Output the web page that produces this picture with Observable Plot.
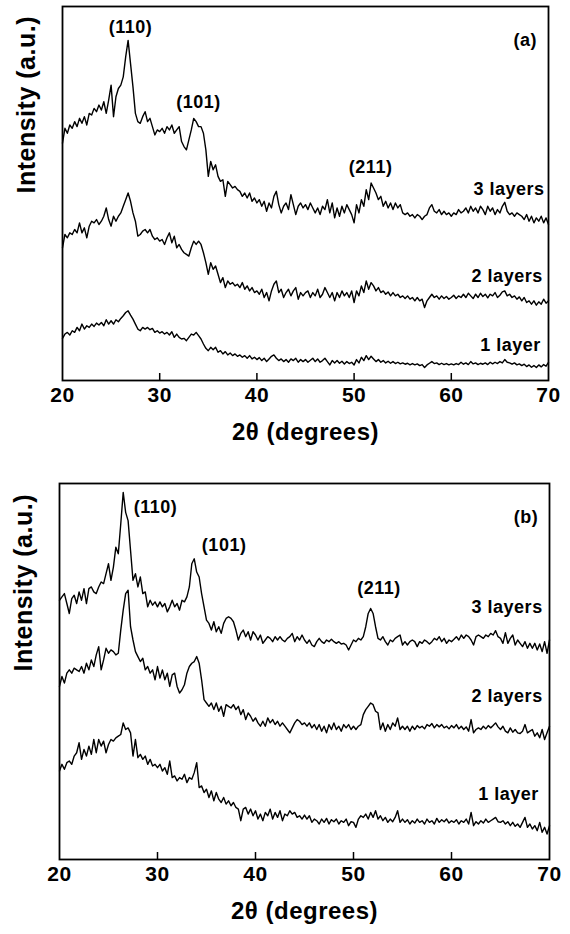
<!DOCTYPE html>
<html><head><meta charset="utf-8">
<script src="https://cdn.jsdelivr.net/npm/d3@7"></script>
<script src="https://cdn.jsdelivr.net/npm/@observablehq/plot@0.6"></script>
<style>
body{margin:0;background:#fff;}
#wrap{position:relative;width:570px;height:934px;overflow:hidden;background:#fff;}
#wrap > svg{position:absolute;left:0;}
</style></head><body><div id="wrap"></div>
<script>
// 2θ sampling grid: 20° to 70° every 0.25°
const thetaStart = 20, thetaStep = 0.25;
const xTicks = [20, 30, 40, 50, 60, 70];
const innerTicks = [30, 40, 50, 60];

// Panel (a) — intensity (a.u.)
const a3 = [715,760,745,770,760,780,765,790,775,795,770,805,800,820,810,830,815,840,805,845,
890,795,855,880,890,915,975,1025,955,885,805,780,775,795,810,780,790,765,740,755,
750,760,745,765,755,770,745,755,765,720,705,695,725,755,790,780,765,765,745,695,
615,660,635,650,615,600,605,555,600,590,580,585,575,570,555,565,550,565,540,550,
535,545,525,540,510,535,520,555,570,530,505,525,535,515,560,530,500,525,535,520,
530,515,535,520,505,520,500,525,515,545,505,535,490,520,495,525,505,530,515,500,
475,530,505,545,525,575,545,595,580,565,545,555,525,540,520,535,515,535,520,530,
505,500,505,495,500,490,500,495,485,495,500,520,530,510,505,515,500,510,500,505,
495,505,500,515,505,510,520,505,525,510,520,505,525,515,500,525,510,520,500,515,
505,525,537,510,500,505,495,505,500,495,485,500,480,495,475,490,480,495,475,490,
470];
const a2 = [400,440,430,445,440,455,445,475,445,460,430,465,480,475,485,470,480,495,520,485,
465,495,480,495,505,525,545,565,540,505,480,435,440,450,455,445,455,435,425,430,
420,425,410,430,445,415,435,400,410,395,385,380,375,400,420,410,420,410,385,355,
320,355,335,345,320,295,310,280,300,290,295,285,290,280,295,275,285,270,280,265,
270,260,275,250,265,240,270,290,300,265,275,250,265,275,255,270,280,245,265,255,
265,270,250,265,255,275,250,260,280,265,250,265,240,265,250,270,255,265,250,270,
235,270,255,285,265,300,275,295,285,270,280,265,270,260,267,255,265,255,260,250,
255,247,255,245,250,240,250,240,245,220,240,250,260,250,255,245,255,247,253,245,
250,257,247,255,250,260,250,263,255,247,260,250,263,253,260,249,260,255,265,250,
257,267,270,255,260,250,255,245,252,240,250,235,240,230,240,227,237,230,245,233,
240];
const a1 = [127,140,145,137,150,145,160,150,170,155,165,160,170,163,173,167,175,165,183,170,
180,170,183,177,187,195,205,210,197,185,170,155,150,160,155,160,153,157,145,150,
143,147,140,145,137,147,130,140,130,125,127,120,130,140,137,145,135,125,110,97,
90,100,93,100,85,90,80,87,77,83,75,80,73,77,70,75,67,75,65,70,
63,69,60,67,57,65,73,77,67,60,65,57,63,55,65,60,67,55,63,57,
63,55,61,67,57,65,55,60,67,57,47,60,53,60,52,58,50,57,51,55,
47,63,53,70,60,75,63,73,65,57,63,55,60,53,58,52,57,51,55,50,
53,49,52,47,51,47,50,45,48,39,47,52,57,51,53,48,52,48,51,47,
50,47,51,48,55,49,53,48,57,50,53,48,52,49,53,48,55,50,55,51,
57,53,63,55,53,49,53,47,50,45,49,42,47,40,45,39,47,41,48,43,
55];

// Panel (b) — intensity (a.u.)
const b3 = [782,792,802,772,742,787,797,772,807,782,817,772,817,822,807,802,822,837,832,862,
892,842,882,942,922,1012,1107,1047,1022,932,842,862,822,852,802,807,762,782,767,777,
762,777,762,772,747,762,782,762,772,752,782,777,792,822,892,907,867,852,802,762,
722,712,692,717,687,702,682,712,727,732,727,717,692,662,682,692,672,687,662,687,
677,662,677,652,662,672,667,657,672,662,672,662,657,667,672,682,657,672,662,677,
662,652,662,647,642,657,667,657,652,662,657,664,657,652,657,650,652,647,632,647,
662,657,667,662,672,702,742,757,742,702,667,662,672,657,647,662,657,667,672,677,
647,657,647,657,662,657,642,657,652,662,657,650,657,667,662,672,657,667,652,662,
657,664,672,662,677,667,677,672,662,647,672,677,672,667,677,672,682,677,690,672,
667,652,684,652,667,677,647,662,652,642,657,637,652,637,652,632,650,627,657,622,
662];
const b2 = [522,552,532,562,572,562,577,572,567,582,562,592,572,602,582,617,642,572,602,637,
622,632,627,617,622,692,752,802,812,702,662,627,612,597,607,572,582,562,572,542,
582,547,572,542,562,522,557,562,522,502,512,527,562,582,592,597,612,592,542,482,
472,462,472,452,472,447,462,432,467,462,457,467,452,462,437,452,422,442,432,417,
427,412,402,417,402,427,412,422,407,417,402,412,402,392,382,397,412,422,417,407,
412,402,412,397,407,392,407,387,402,382,407,392,412,392,402,387,407,397,407,392,
402,392,402,407,437,452,462,472,467,447,442,392,412,387,407,392,412,402,427,392,
402,392,402,387,402,392,404,397,402,394,407,402,410,397,407,400,407,397,402,394,
404,397,407,394,402,392,400,387,422,382,392,397,392,402,394,404,397,404,412,400,
392,402,387,382,397,384,392,382,380,387,407,382,387,392,372,382,367,392,362,382,
402];
const b1 = [267,287,272,292,297,287,312,322,352,302,332,312,342,317,362,322,362,342,357,322,
347,362,357,367,372,377,412,392,397,382,312,362,307,317,302,312,287,302,282,287,
277,287,267,277,257,297,247,252,237,247,242,257,232,247,242,262,292,217,222,202,
212,187,207,177,202,182,172,187,167,177,162,172,157,152,117,152,157,137,152,132,
147,122,137,117,142,132,152,122,142,127,147,117,137,132,147,137,142,127,132,122,
134,122,132,112,122,117,107,122,112,124,107,120,114,122,107,117,112,122,102,114,
112,97,122,132,127,137,122,142,127,147,122,132,117,127,112,122,114,127,147,112,
122,112,120,107,117,110,122,112,117,107,122,112,117,107,124,112,120,114,122,110,
117,112,120,107,117,112,122,107,142,102,114,107,117,110,122,112,117,122,127,114,
112,117,107,114,102,112,100,107,97,112,127,97,107,92,102,87,112,82,97,77,
102];

const layers = ["3 layers", "2 layers", "1 layer"];

// Annotations (2θ position, height in the panel's a.u.)
const peakLabelsA = [
  {text: "(110)", theta: 27.0, y: 1065},
  {text: "(101)", theta: 34.0, y: 840},
  {text: "(211)", theta: 51.7, y: 642},
  {text: "(a)", theta: 67.6, y: 1025}
];
const layerLabelsA = [
  {text: "3 layers", theta: 69.6, y: 575},
  {text: "2 layers", theta: 69.4, y: 315},
  {text: "1 layer", theta: 69.2, y: 105}
];
const peakLabelsB = [
  {text: "(110)", theta: 29.8, y: 1062},
  {text: "(101)", theta: 36.8, y: 947},
  {text: "(211)", theta: 52.6, y: 817},
  {text: "(b)", theta: 67.6, y: 1032}
];
const layerLabelsB = [
  {text: "3 layers", theta: 69.3, y: 762},
  {text: "2 layers", theta: 69.3, y: 492},
  {text: "1 layer", theta: 68.9, y: 197}
];

function toRows(seriesList) {
  const rows = [];
  seriesList.forEach((vals, k) => {
    vals.forEach((v, i) => rows.push({theta: thetaStart + i * thetaStep, intensity: v, layer: layers[k]}));
  });
  return rows;
}

const FONT = "'Liberation Sans', Arial, Helvetica, sans-serif";

function panel({series, peaks, layerLabels, yMax, top, height, mt, mb, ml, mr}) {
  const frameH = height - mt - mb;
  const svg = Plot.plot({
    width: 570,
    height,
    marginTop: mt, marginBottom: mb, marginLeft: ml, marginRight: mr,
    style: {fontFamily: FONT, fontWeight: "bold", color: "black", background: "white", letterSpacing: "0.5px"},
    x: {domain: [20, 70], axis: null},
    y: {domain: [0, yMax], axis: null},
    marks: [
      Plot.line(toRows(series), {x: "theta", y: "intensity", z: "layer", stroke: "black", strokeWidth: 1.4}),
      Plot.tickX(innerTicks, {x: d => d, insetTop: frameH - 7, stroke: "black", strokeWidth: 1.5}),
      Plot.axisX({ticks: xTicks, tickSize: 0, tickPadding: 7, label: null, fontSize: 21, fontWeight: "bold"}),
      Plot.frame({stroke: "black", strokeWidth: 1.8}),
      Plot.text(peaks, {x: "theta", y: "y", text: "text", fontSize: 18, fontWeight: "bold", textAnchor: "middle", fill: "black"}),
      Plot.text(layerLabels, {x: "theta", y: "y", text: "text", fontSize: 18, fontWeight: "bold", textAnchor: "end", fill: "black"}),
      Plot.text(["2θ (degrees)"], {frameAnchor: "bottom", dy: 59, fontSize: 24, fontWeight: "bold", fill: "black"}),
      Plot.text(["Intensity (a.u.)"], {frameAnchor: "left", rotate: -90, dx: -36, fontSize: 25, fontWeight: "bold", fill: "black"})
    ]
  });
  svg.style.top = top + "px";
  document.getElementById("wrap").appendChild(svg);
}

panel({series: [a3, a2, a1], peaks: peakLabelsA, layerLabels: layerLabelsA, yMax: 1127,
  top: 0, height: 460, mt: 6, mb: 80, ml: 62, mr: 22});
panel({series: [b3, b2, b1], peaks: peakLabelsB, layerLabels: layerLabelsB, yMax: 1134,
  top: 460, height: 474, mt: 23, mb: 75, ml: 59, mr: 21});
</script>
</body></html>
